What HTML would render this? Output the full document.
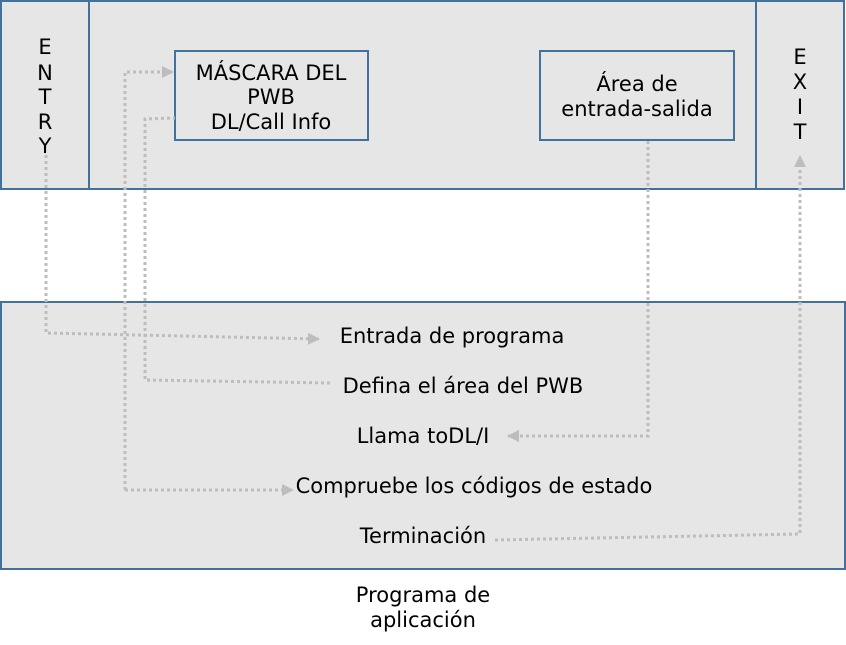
<!DOCTYPE html>
<html><head><meta charset="utf-8"><style>
html,body{margin:0;padding:0;background:#fff;}
svg{display:block}
</style></head><body>
<svg width="846" height="645" viewBox="0 0 846 645" xmlns="http://www.w3.org/2000/svg">
<defs>
<marker id="a" markerWidth="12" markerHeight="12" refX="11" refY="6" orient="auto" markerUnits="userSpaceOnUse">
<path d="M0,0 L12,6 L0,12 z" fill="#bdbdbd"/></marker>
</defs>
<rect x="1" y="1" width="843" height="188" fill="#e6e6e6" stroke="#41719c" stroke-width="2"/>
<line x1="89" y1="1" x2="89" y2="189" stroke="#41719c" stroke-width="2"/>
<line x1="756" y1="1" x2="756" y2="189" stroke="#41719c" stroke-width="2"/>
<rect x="175" y="51" width="193" height="89" fill="#e6e6e6" stroke="#41719c" stroke-width="2"/>
<rect x="540" y="51" width="194" height="89" fill="#e6e6e6" stroke="#41719c" stroke-width="2"/>
<rect x="1" y="302" width="844" height="267" fill="#e6e6e6" stroke="#41719c" stroke-width="2"/>

<g text-anchor="middle" font-family="DejaVu Sans, Liberation Sans, sans-serif" font-size="21" fill="#000">
<text x="45" y="54">E</text><text x="45" y="80">N</text><text x="45" y="104">T</text><text x="45" y="129">R</text><text x="45" y="153">Y</text>
<text x="800" y="64">E</text><text x="800" y="89">X</text><text x="800" y="114">I</text><text x="800" y="139">T</text>
<text x="271" y="80">MÁSCARA DEL</text>
<text x="271" y="104">PWB</text>
<text x="271" y="129">DL/Call Info</text>
<text x="637" y="91">Área de</text>
<text x="637" y="116">entrada-salida</text>
<text x="452" y="343">Entrada de programa</text>
<text x="463" y="393">Defina el área del PWB</text>
<text x="423" y="443">Llama toDL/I</text>
<text x="474" y="493">Compruebe los códigos de estado</text>
<text x="423" y="543">Terminación</text>
<text x="423" y="602">Programa de</text>
<text x="423" y="627">aplicación</text>
</g>

<g fill="none" stroke="#bdbdbd" stroke-width="3" stroke-dasharray="3,3">
<polyline points="46,155 46,333 319,339" marker-end="url(#a)"/>
<polyline points="125,490 125,72 173,72" marker-end="url(#a)"/>
<polyline points="330,383 145,380 145,119 175,118"/>
<polyline points="648,141 648,436 508,436" marker-end="url(#a)"/>
<polyline points="125,490 293,490" marker-end="url(#a)"/>
<polyline points="495,540 800,534 800,156" marker-end="url(#a)"/>
</g>
</svg>
</body></html>
